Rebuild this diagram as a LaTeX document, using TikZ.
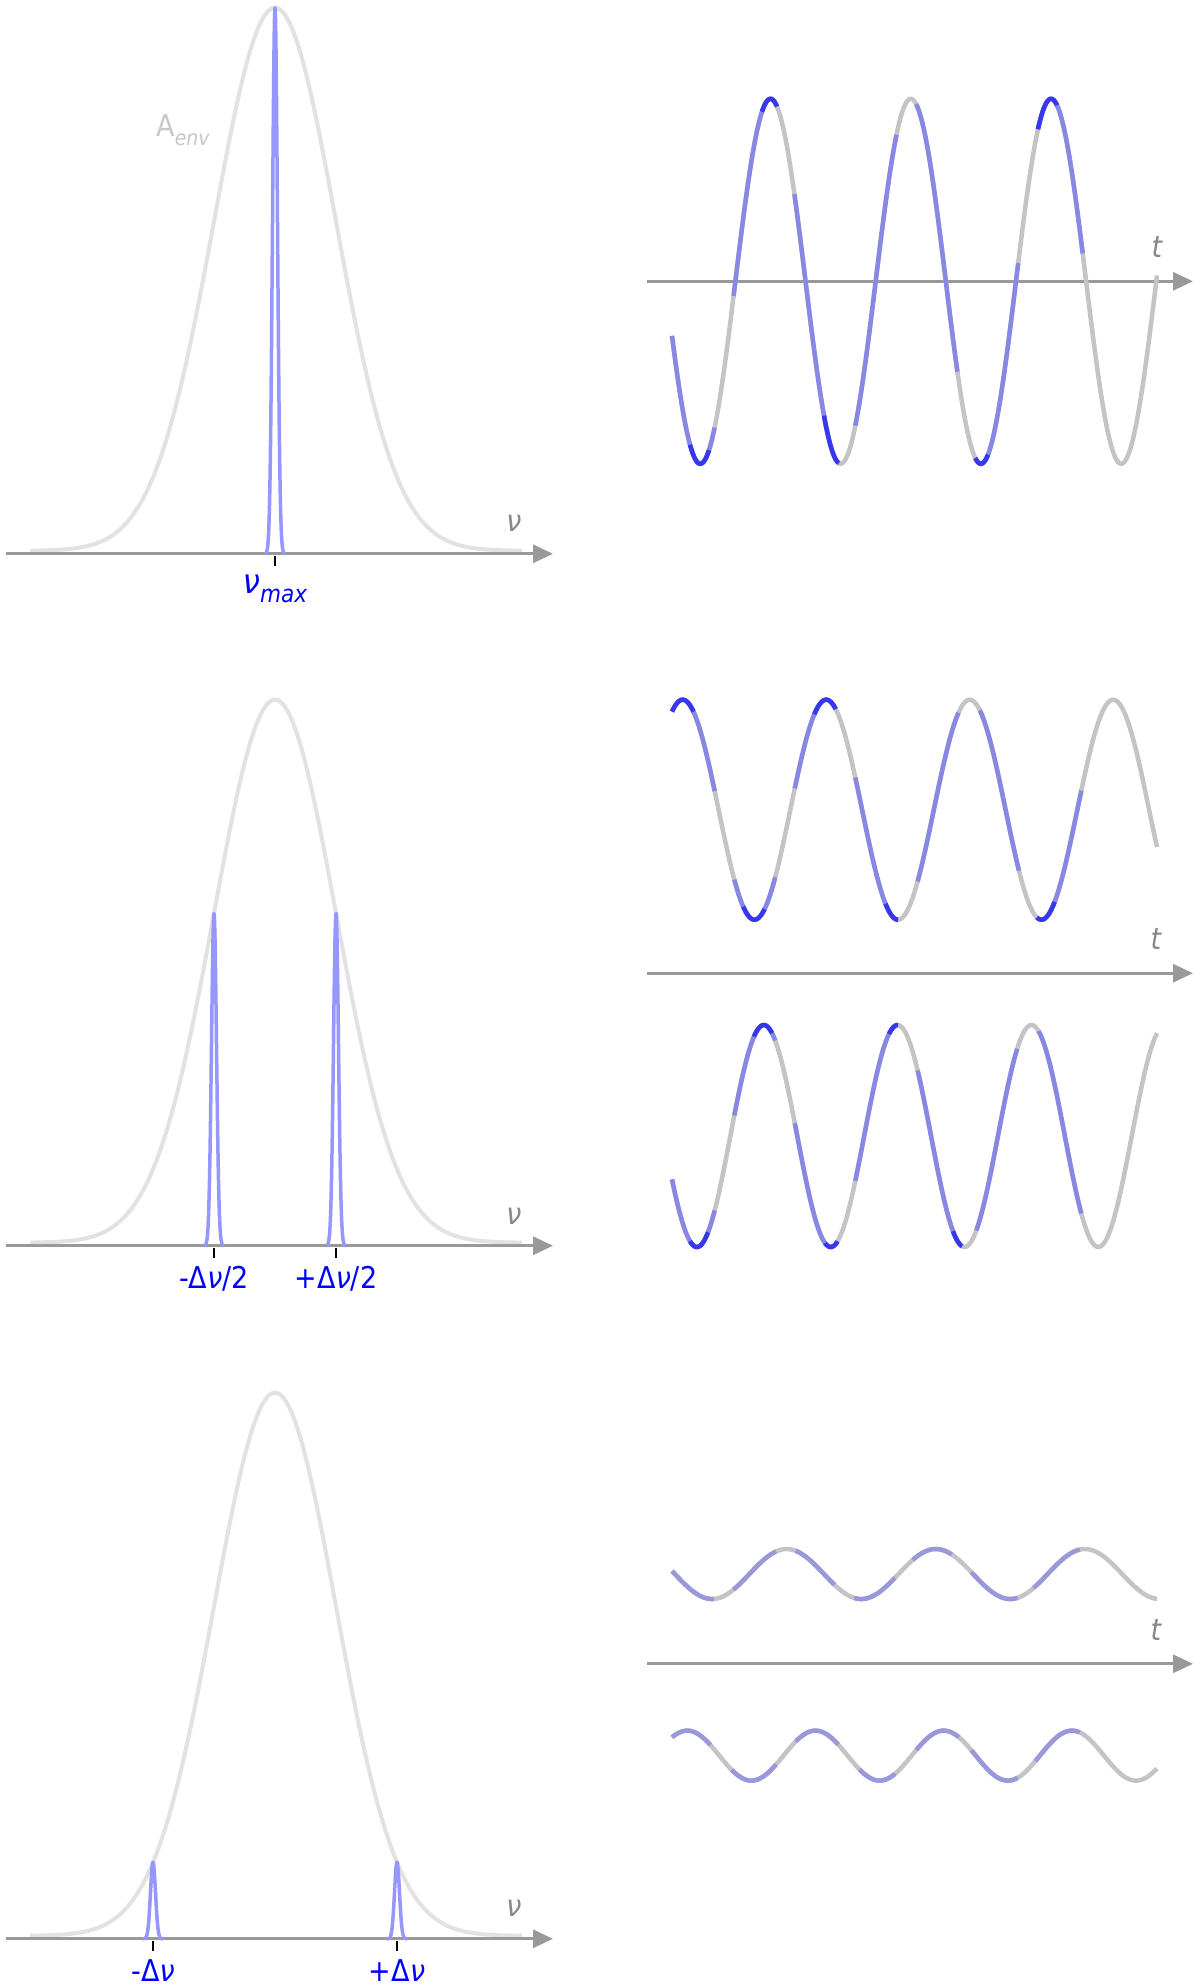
\documentclass[tikz,border=0pt]{standalone}
\usepackage{fontspec}
\setmainfont{DejaVu Sans}[FakeStretch=0.9]
\usetikzlibrary{arrows.meta}
\definecolor{axisgray}{RGB}{153,153,153}
\definecolor{envgray}{RGB}{226,226,226}
\definecolor{wavegray}{RGB}{196,196,196}
\definecolor{wblue}{RGB}{135,135,228}
\definecolor{wblueB}{RGB}{152,152,218}
\definecolor{wdark}{RGB}{55,55,235}
\definecolor{spikeblue}{RGB}{150,150,255}
\definecolor{lblue}{RGB}{0,0,255}
\definecolor{labgray}{RGB}{136,136,136}
\definecolor{envlab}{RGB}{200,200,200}
\newcommand{\setwave}[4]{\def\wvC{#1}\def\wvA{#2}\def\wvX{#3}\def\wvP{#4}}
\newcommand{\wseg}[3]{\draw[#1] plot[domain=#2:#3,samples=45,smooth] (\x,{\wvC+\wvA*cos((\x-\wvX)/\wvP*360)});}
\newcommand{\wfull}{\draw[wgray] plot[domain=672:1157,samples=400] (\x,{\wvC+\wvA*cos((\x-\wvX)/\wvP*360)});}
\newcommand{\envcurve}[1]{\draw[envline] plot[domain=30:522,samples=300] (\x,{#1-3-543*exp(-0.5*((\x-275)/61)^2)});}
\newcommand{\spike}[3]{\draw[spikeline] plot[domain=#1-10:#1+10,samples=81] (\x,{#2-#3*exp(-0.5*((\x-#1)/2.5)^2)});}
\tikzset{
  axisline/.style={draw=axisgray,line width=3pt,-{Triangle[length=20pt,width=18pt]}},
  envline/.style={draw=envgray,line width=4pt},
  spikeline/.style={draw=spikeblue,line width=3.5pt,line join=round},
  tickline/.style={draw=black,line width=2.5pt},
  wgray/.style={draw=wavegray,line width=4.5pt,line join=round},
  wbl/.style={draw=wblue,line width=4.5pt},
  wblB/.style={draw=wblueB,line width=4.5pt},
  wdk/.style={draw=wdark,line width=4.5pt},
  bluelab/.style={text=lblue,inner sep=0pt,font=\fontsize{30}{34}\selectfont},
  graylab/.style={text=labgray,inner sep=0pt,font=\fontsize{30}{34}\selectfont\itshape},
  envlabel/.style={text=envlab,inner sep=0pt,font=\fontsize{30}{34}\selectfont}
}
\begin{document}
\begin{tikzpicture}[x=1pt,y=-1pt]
\useasboundingbox (0,0) rectangle (1200,1986);
\fill[white] (0,0) rectangle (1200,1986);

% ---------- left panel 1 ----------
\envcurve{553.8}
\coordinate (a1s) at (6,553.8);
\coordinate (a1e) at (553,553.8);
\draw[axisline] (a1s) -- (a1e);
\spike{275}{553.8}{546}
\coordinate (k1a) at (275,556);
\coordinate (k1b) at (275,566);
\draw[tickline] (k1a) -- (k1b);
\node[bluelab] (numax) at (275,589) {\fontsize{34}{36}\selectfont\itshape ν\raisebox{-0.28em}{\fontsize{24}{24}\selectfont max}};
\node[graylab] (nu1) at (514,523) {ν};
\node[envlabel] (aenv) at (183,130) {A\raisebox{-0.3em}{\fontsize{21}{21}\selectfont\itshape env}};

% ---------- left panel 2 ----------
\envcurve{1245.7}
\coordinate (a2s) at (6,1245.7);
\coordinate (a2e) at (553,1245.7);
\draw[axisline] (a2s) -- (a2e);
\spike{214}{1245.7}{332.3}
\spike{336}{1245.7}{332.3}
\coordinate (k2a) at (214,1248);
\coordinate (k2b) at (214,1258);
\coordinate (k2c) at (336,1248);
\coordinate (k2d) at (336,1258);
\draw[tickline] (k2a) -- (k2b);
\draw[tickline] (k2c) -- (k2d);
\node[bluelab] (lm2) at (214,1279) {-Δ{\itshape ν}/2};
\node[bluelab] (lp2) at (336,1279) {+Δ{\itshape ν}/2};
\node[graylab] (nu2) at (514,1216) {ν};

% ---------- left panel 3 ----------
\envcurve{1938.8}
\coordinate (a3s) at (6,1938.8);
\coordinate (a3e) at (553,1938.8);
\draw[axisline] (a3s) -- (a3e);
\spike{153}{1938.8}{76.5}
\spike{397}{1938.8}{76.5}
\coordinate (k3a) at (153,1941);
\coordinate (k3b) at (153,1951);
\coordinate (k3c) at (397,1941);
\coordinate (k3d) at (397,1951);
\draw[tickline] (k3a) -- (k3b);
\draw[tickline] (k3c) -- (k3d);
\node[bluelab] (lm3) at (153,1971) {-Δ{\itshape ν}};
\node[bluelab] (lp3) at (397,1971) {+Δ{\itshape ν}};
\node[graylab] (nu3) at (514,1908) {ν};

% ---------- right panel 1 ----------
\coordinate (t1s) at (647,281.3);
\coordinate (t1e) at (1193,281.3);
\draw[axisline] (t1s) -- (t1e);
\node[graylab] (tl1) at (1157,247) {t};
\setwave{281.3}{182.5}{700.3}{140.3}
\wfull
\foreach \a/\b in {672/714.6,733.6/776.5,794.4/839.2,855.3/896.5,916.2/957.4,975.3/1018.2,1037.9/1082.7}{\wseg{wbl}{\a}{\b}}
\foreach \a/\b in {690/709,762/777,824/838.5,975.3/988,1038/1057}{\wseg{wdk}{\a}{\b}}

% ---------- right panel 2 ----------
\coordinate (t2s) at (647,973.2);
\coordinate (t2e) at (1193,973.2);
\draw[axisline] (t2s) -- (t2e);
\node[graylab] (tl2) at (1156,939) {t};
\setwave{809.7}{-110}{682.7}{143.5}
\wfull
\foreach \a/\b in {672/714.7,734.3/775.2,794.8/835.7,855.3/898,917.6/958.5,979.8/1019,1036.8/1081.3}{\wseg{wbl}{\a}{\b}}
\foreach \a/\b in {672/693.4,743.2/764.5,814.3/835.7,885.5/898,1036.8/1054.6}{\wseg{wdk}{\a}{\b}}
\setwave{1136}{111}{696.9}{133.8}
\wfull
\foreach \a/\b in {672/714.7,734.3/775.2,794.8/837.5,855.3/898,917.6/962,976.3/1017.2,1038.5/1081.3}{\wseg{wbl}{\a}{\b}}
\foreach \a/\b in {690/708,754/772,825/837.5,889/898,953/962}{\wseg{wdk}{\a}{\b}}

% ---------- right panel 3 ----------
\coordinate (t3s) at (647,1663.8);
\coordinate (t3e) at (1193,1663.8);
\draw[axisline] (t3s) -- (t3e);
\node[graylab] (tl3) at (1156,1630) {t};
\setwave{1574}{25}{712.1}{149.1}
\wfull
\foreach \a/\b in {672/713.9,733.4/776,795.6/834.6,854.2/895,912.8/951.8,971.4/1017.5,1033.5/1079.7}{\wseg{wblB}{\a}{\b}}
\setwave{1755.6}{-25}{687.3}{128.2}
\wfull
\foreach \a/\b in {672/710.4,731.7/776,795.6/838.2,859.5/895,916.3/958.9,971.4/1017.5,1035.3/1079.7}{\wseg{wblB}{\a}{\b}}
\end{tikzpicture}
\end{document}
